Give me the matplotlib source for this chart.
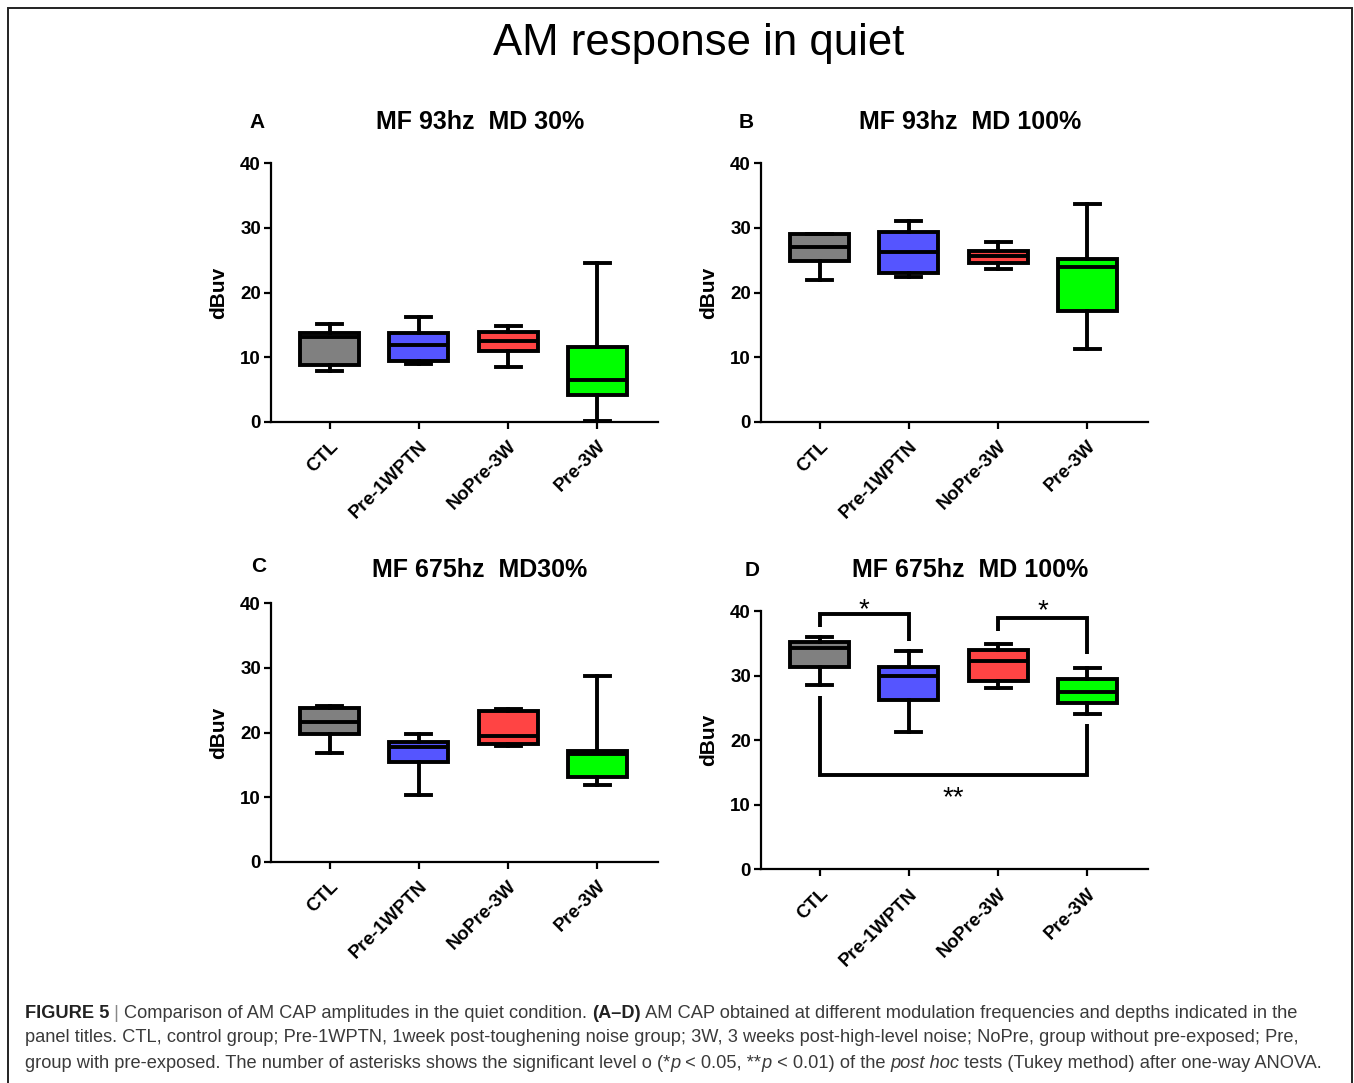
#======================================================================
# AM response in quiet : four box plot panels (A-D) with caption
#======================================================================
import matplotlib
matplotlib.use("Agg")
import matplotlib.pyplot as plt
from matplotlib.patches import Rectangle

plt.rcParams['font.family'] = ['Liberation Sans', 'DejaVu Sans']

#--------------------------------------------------------------------------
#                    Data (whislo, q1, median, q3, whishi)
#--------------------------------------------------------------------------
groups = ['CTL', 'Pre-1WPTN', 'NoPre-3W', 'Pre-3W']
colors = ['#808080', '#5555FF', '#FF4444', '#00FF00']

A_box = [[7.9, 8.7, 13.1, 13.7, 15.1],
         [8.9, 9.4, 11.8, 13.7, 16.2],
         [8.5, 11.0, 12.5, 13.9, 14.8],
         [0.1, 4.2, 6.45, 11.6, 24.5]]
B_box = [[21.9, 24.9, 27.1, 29.0, 29.06],
         [22.45, 23.0, 26.2, 29.3, 31.0],
         [23.6, 24.5, 25.7, 26.5, 27.8],
         [11.3, 17.1, 23.9, 25.2, 33.65]]
C_box = [[16.9, 19.8, 21.7, 23.85, 24.1],
         [10.4, 15.4, 17.8, 18.5, 19.8],
         [17.96, 18.2, 19.5, 23.4, 23.7],
         [11.9, 13.1, 16.6, 17.2, 28.7]]
D_box = [[28.5, 31.4, 34.3, 35.25, 35.9],
         [21.2, 26.2, 30.0, 31.4, 33.75],
         [28.1, 29.2, 32.3, 33.9, 34.9],
         [24.1, 25.8, 27.5, 29.5, 31.1]]

titles = ['MF 93hz  MD 30%', 'MF 93hz  MD 100%', 'MF 675hz  MD30%', 'MF 675hz  MD 100%']
letters = ['A', 'B', 'C', 'D']

# significance brackets in panel D
sig_pairs = [(1, 2), (3, 4), (1, 4)]
sig_bar_y = [39.5, 38.9, 14.6]
sig_leg_end = [(37.5, 35.4), (36.85, 33.3), (26.9, 22.5)]
sig_labels = ['*', '*', '**']
sig_label_y = [40.9, 40.7, 11.7]

#--------------------------------------------------------------------------
#                    Figure layout (pixel based)
#--------------------------------------------------------------------------
W, H = 1354, 1083
fig = plt.figure(figsize=(W / 100, H / 100), dpi=100)

def fx(px): return px / W
def fy(py): return 1 - py / H

ax_w, ax_h = 387.3 / W, 258.4 / H
# (left px, top px) of each axes, plus letter & title positions
ax_pos = [(270.7, 163.3), (760.7, 163.3), (270.7, 603.3), (760.7, 611.0)]
letter_pos = [(257, 122), (746, 122), (259, 567), (752, 570)]
title_pos = [(480, 122), (970, 122), (480, 570), (970, 570)]

LW = 2.8
all_boxes = [A_box, B_box, C_box, D_box]
axes = []
for i, box in enumerate(all_boxes):
    left, top = ax_pos[i]
    ax = fig.add_axes([fx(left), fy(top) - ax_h, ax_w, ax_h])
    axes.append(ax)
    stats = [dict(whislo=b[0], q1=b[1], med=b[2], q3=b[3], whishi=b[4], label=g)
             for b, g in zip(box, groups)]
    bp = ax.bxp(stats, positions=[1, 2, 3, 4], widths=0.66, capwidths=0.28,
                patch_artist=True, showfliers=False,
                boxprops=dict(linewidth=LW, edgecolor='black'),
                whiskerprops=dict(linewidth=LW, color='black'),
                capprops=dict(linewidth=LW, color='black'),
                medianprops=dict(linewidth=LW, color='black'))
    for patch, c in zip(bp['boxes'], colors):
        patch.set_facecolor(c)
    ax.set_xlim(0.34, 4.68)
    ax.set_ylim(0, 40)
    ax.set_yticks([0, 10, 20, 30, 40])
    ax.spines['top'].set_visible(False)
    ax.spines['right'].set_visible(False)
    for s in ['left', 'bottom']:
        ax.spines[s].set_linewidth(1.6)
    ax.tick_params(axis='y', direction='out', length=5, width=1.6, labelsize=13.5, pad=2)
    ax.tick_params(axis='x', direction='out', length=5, width=1.6, labelsize=13.5, pad=6.5)
    ax.set_xticks([1, 2, 3, 4])
    ax.set_xticklabels(groups, rotation=45, ha='right', va='top',
                       rotation_mode='anchor', fontweight='bold', fontsize=13.5)
    for lab in ax.get_yticklabels():
        lab.set_fontweight('bold')
    ax.set_ylabel('dBuv', fontsize=15, fontweight='bold')
    ax.yaxis.set_label_coords(-0.11, 0.5)
    ax.patch.set_alpha(0)
    fig.text(fx(letter_pos[i][0]), fy(letter_pos[i][1]), letters[i],
             fontsize=15, fontweight='bold', ha='center', va='center')
    fig.text(fx(title_pos[i][0]), fy(title_pos[i][1]), titles[i],
             fontsize=18, fontweight='bold', ha='center', va='center')

#--------------------------------------------------------------------------
#               Significance brackets (panel D)
#--------------------------------------------------------------------------
axD = axes[3]
for (x1, x2), yb, (e1, e2), lab, ly in zip(sig_pairs, sig_bar_y, sig_leg_end,
                                          sig_labels, sig_label_y):
    axD.plot([x1, x1, x2, x2], [e1, yb, yb, e2], color='black', lw=LW,
             clip_on=False, solid_joinstyle='miter', solid_capstyle='butt')
    axD.text((x1 + x2) / 2, ly - 1.8, lab, fontsize=20, ha='center',
             va='baseline', clip_on=False)

#--------------------------------------------------------------------------
#               Title, frame and caption
#--------------------------------------------------------------------------
fig.text(fx(699), fy(43), 'AM response in quiet', fontsize=31.5,
         ha='center', va='center')

fig.patches.append(Rectangle((fx(8), -0.02), fx(1352) - fx(8), fy(8) + 0.02,
                             transform=fig.transFigure, fill=False,
                             edgecolor='#222222', linewidth=1.4))

renderer = fig.canvas.get_renderer()
CAP = 13.12
TXT = '#3a3a3a'

def seg_width(s, **kw):
    a = fig.text(0, 0, '|' + s + '|', fontsize=CAP, **kw)
    b = fig.text(0, 0, '||', fontsize=CAP, **kw)
    w = a.get_window_extent(renderer).width - b.get_window_extent(renderer).width
    a.remove(); b.remove()
    return w

def put_line(x, y, parts):
    for s, kw in parts:
        kw = dict(kw)
        kw.setdefault('color', TXT)
        fig.text(fx(x), fy(y), s, fontsize=CAP, va='center', ha='left', **kw)
        x += seg_width(s, **{k: v for k, v in kw.items() if k != 'color'})

put_line(25, 1013, [('FIGURE 5', dict(fontweight='bold', color='#222222')),
                    (' | ', dict(color='#888888')),
                    ('Comparison of AM CAP amplitudes in the quiet condition. ', {}),
                    ('(A\u2013D)', dict(fontweight='bold', color='#222222')),
                    (' AM CAP obtained at different modulation frequencies and depths indicated in the', {})])
put_line(25, 1038, [('panel titles. CTL, control group; Pre-1WPTN, 1week post-toughening noise group; '
                     '3W, 3 weeks post-high-level noise; NoPre, group without pre-exposed; Pre,', {})])
put_line(25, 1063, [('group with pre-exposed. The number of asterisks shows the significant level o (*', {}),
                    ('p', dict(style='italic')),
                    (' < 0.05, **', {}),
                    ('p', dict(style='italic')),
                    (' < 0.01) of the ', {}),
                    ('post hoc', dict(style='italic')),
                    (' tests (Tukey method) after one-way ANOVA.', {})])

fig.savefig('out.png', dpi=100)
print("Completed Successfully ... ")
